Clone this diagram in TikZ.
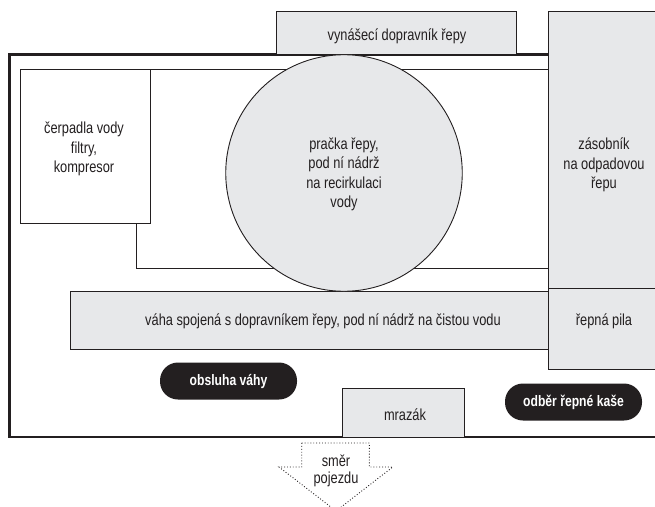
\documentclass[tikz,border=0pt]{standalone}
\usepackage{fontspec}
\setmainfont[FakeStretch=0.80]{Liberation Sans}
\usetikzlibrary{calc}
\definecolor{ink}{HTML}{231F20}
\definecolor{pale}{HTML}{E7E8EA}
\tikzset{
  box/.style={draw=ink,line width=0.9pt,rectangle,inner sep=0pt,outer sep=0pt},
  palebox/.style={box,fill=pale},
  whitebox/.style={box,fill=white},
  lbl/.style={text=ink,font=\fontsize{16}{19.5}\selectfont,align=center,inner sep=0pt},
  pill/.style={fill=ink,rounded corners=18pt,rectangle,inner sep=0pt,outer sep=0pt,text=white,
     font=\fontsize{15.2}{16}\selectfont\bfseries,minimum width=137pt,minimum height=37pt},
  frame/.style={draw=ink,line width=2.5pt},
  dir/.style={draw=ink,line width=0.9pt,dotted,line join=miter}
}
\begin{document}
\begin{tikzpicture}[x=1pt,y=-1pt]
\useasboundingbox (0,0) rectangle (655,506);
\clip (0,0) rectangle (655,506);
\coordinate (fa) at (690,54.5);
\coordinate (fb) at (9.5,54.5);
\coordinate (fc) at (9.5,437);
\coordinate (fd) at (690,437);
\draw[frame] (fa) -- (fb) -- (fc) -- (fd);
\node[whitebox,minimum width=412pt,minimum height=199pt] (pipe) at (342,168.5) {};
\node[whitebox,minimum width=129.5pt,minimum height=154.5pt] (pump) at (85.5,146.2) {};
\node[lbl] (pumpt) at (84,149) {čerpadla vody\\filtry,\\kompresor};
\node[palebox,minimum width=477.5pt,minimum height=58pt] (scale) at (309.2,320) {};
\node[lbl] (scalet) at (323,321) {váha spojená s dopravníkem řepy, pod ní nádrž na čistou vodu};
\node[palebox,minimum width=112pt,minimum height=277pt] (hopper) at (604,149.5) {};
\node[lbl] (hoppert) at (604,165) {zásobník\\na odpadovou\\řepu};
\node[palebox,minimum width=112pt,minimum height=81pt] (saw) at (604,328.5) {};
\node[lbl] (sawt) at (604,321.5) {řepná pila};
\node[palebox,minimum width=240pt,minimum height=43.5pt] (conv) at (396,32.7) {};
\node[lbl] (convt) at (397,36) {vynášecí dopravník řepy};
\node[palebox,circle,minimum size=236.5pt] (washer) at (344,173) {};
\node[lbl] (washert) at (344,174.5) {pračka řepy,\\pod ní nádrž\\na recirkulaci\\vody};
\node[palebox,minimum width=122.5pt,minimum height=49pt] (freezer) at (403.5,412.5) {};
\node[lbl] (freezert) at (405,415) {mrazák};
\node[pill] (op) at (228.5,381) {obsluha váhy};
\node[pill] (out) at (573.5,402) {odběr řepné kaše};
\draw[dir] (301.7,443) coordinate (a1) -- (369.3,443) coordinate (a2) -- (369.3,467) coordinate (a3)
  -- (392.7,467) coordinate (a4) -- (336,511) coordinate (a5) -- (279,467) coordinate (a6)
  -- (301.7,467) coordinate (a7) -- cycle;
\node[lbl,font=\fontsize{16}{16.5}\selectfont] (dirt) at (336,471) {směr\\pojezdu};
\end{tikzpicture}
\end{document}
